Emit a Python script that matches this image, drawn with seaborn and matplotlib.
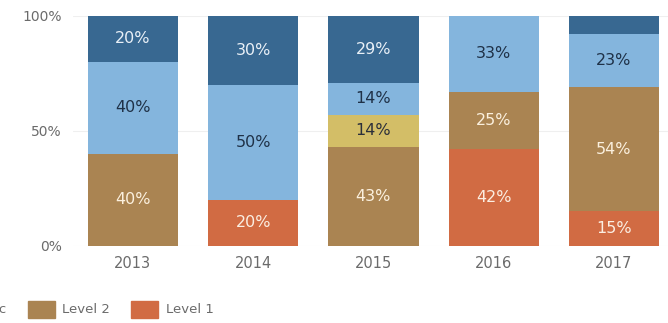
import matplotlib
matplotlib.use("Agg")
import matplotlib.pyplot as plt
import matplotlib.patches as mpatches
import numpy as np
import pandas as pd
import seaborn as sns

years = ["2013", "2014", "2015", "2016", "2017"]
# stacking order, bottom to top
levels = ["Level 1", "Level 2", "Basic", "Proficient", "Advanced"]
level_1 = [0, 20, 0, 42, 15]
level_2 = [40, 0, 43, 25, 54]
basic = [0, 0, 14, 0, 0]
proficient = [40, 50, 14, 33, 23]
advanced = [20, 30, 29, 0, 8]
# which segments carry a printed percentage
show_label = {
    "Level 1": [False, True, False, True, True],
    "Level 2": [True, False, True, True, True],
    "Basic": [False, False, True, False, False],
    "Proficient": [True, True, True, True, True],
    "Advanced": [True, True, True, False, False],
}

colors = {
    "Level 1": "#d16b43",
    "Level 2": "#aa8452",
    "Basic": "#d3be67",
    "Proficient": "#84b5dd",
    "Advanced": "#386891",
}
text_colors = {
    "Level 1": "#fbeee2",
    "Level 2": "#fbf0de",
    "Basic": "#2b2f3a",
    "Proficient": "#1f3147",
    "Advanced": "#e9f0f7",
}

values = dict(zip(levels, [level_1, level_2, basic, proficient, advanced]))
df = pd.DataFrame(values, index=years)
cum = df.cumsum(axis=1)

sns.set_theme(style="white")
plt.rcParams["font.family"] = ["DejaVu Sans"]

fig = plt.figure(figsize=(6.68, 3.23), dpi=100)
ax = fig.add_axes([0.109, 0.2384, 0.891, 0.7121])

# draw cumulative totals from the top layer downwards so each band shows through
for lvl in reversed(levels):
    d = pd.DataFrame({"year": years, "top": cum[lvl].values})
    sns.barplot(data=d, x="year", y="top", color=colors[lvl], width=0.75,
                saturation=1, linewidth=0, ax=ax, zorder=2)

for i, yr in enumerate(years):
    for lvl in levels:
        v = df.loc[yr, lvl]
        if v > 0 and show_label[lvl][i]:
            mid = cum.loc[yr, lvl] - v / 2
            ax.text(i, mid, f"{v}%", ha="center", va="center", fontsize=11.5,
                    color=text_colors[lvl], zorder=3)

ax.set_ylim(0, 100)
ax.set_xlim(-0.5, 4.45)
ax.set_yticks([0, 50, 100])
ax.set_yticklabels(["0%", "50%", "100%"])
ax.set_xlabel("")
ax.set_ylabel("")
ax.tick_params(axis="both", length=0, labelcolor="#6b6b6b")
ax.tick_params(axis="y", pad=8, labelsize=10)
ax.tick_params(axis="x", pad=7, labelsize=10.5)
for y in [0, 50, 100]:
    ax.axhline(y, color="#efefef", linewidth=0.8, zorder=1)
for s in ax.spines.values():
    s.set_visible(False)

handles = [mpatches.Patch(color=colors[l], label=l) for l in reversed(levels)]
leg_y = 0.043
leg = fig.legend(handles=handles, loc="center left", bbox_to_anchor=(0, leg_y),
                 ncol=5, frameon=False, fontsize=9.5, handlelength=2.05,
                 handleheight=1.6, columnspacing=1.6, handletextpad=0.55,
                 labelcolor="#6b6b6b", borderpad=0, borderaxespad=0)
# slide the legend so the "Level 2" swatch starts at a fixed pixel position
fig.canvas.draw()
patch = leg.get_patches()[3]
bb = patch.get_window_extent()
shift = (28 - bb.x0) / fig.bbox.width
leg.set_bbox_to_anchor((shift, leg_y), transform=fig.transFigure)

fig.savefig("out.png", dpi=100)
